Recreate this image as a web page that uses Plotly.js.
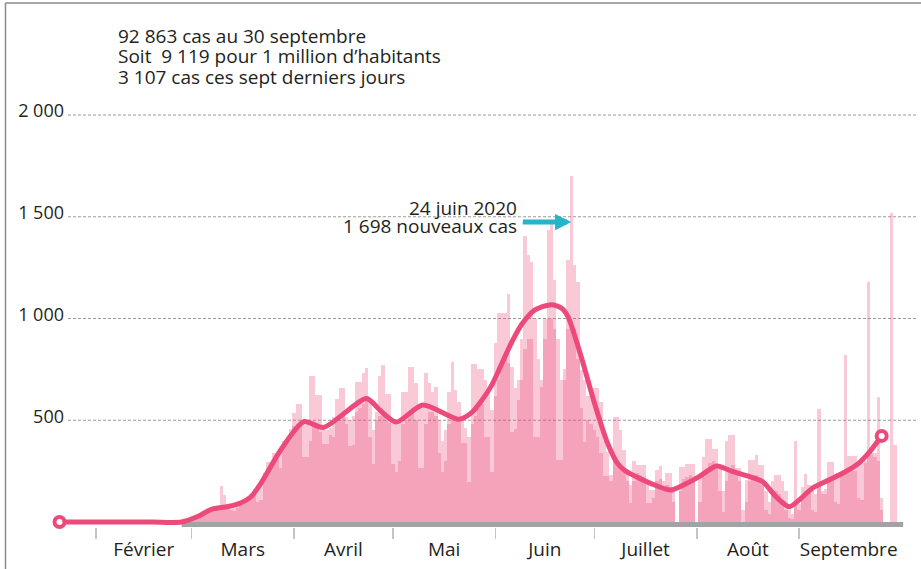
<!DOCTYPE html>
<html>
<head>
<meta charset="utf-8">
<script src="https://cdn.plot.ly/plotly-3.0.1.min.js"></script>
<style>html,body{margin:0;padding:0;background:#fff;}#chart{width:921px;height:569px;}</style>
</head>
<body>
<div id="chart"></div>
<script>
// ---- Data ----
const firstBarDay = '2020-02-26';
// Daily new cases as reported (light bars), Feb 26 -> Sep 30
const reported = [
  // Feb 26-29
  4, 6, 10, 14,
  // March
  20, 28, 35, 42, 50, 56, 60, 63, 66, 177, 133, 75, 72, 70, 80, 95, 110, 125, 140, 160, 173, 190, 240, 296, 296, 338, 338, 338, 400, 410, 455,
  // April
  534, 578, 578, 500, 480, 717, 717, 624, 624, 460, 450, 460, 514, 603, 660, 660, 514, 500, 520, 690, 690, 734, 755, 600, 452, 542, 717, 771, 628, 628,
  // May
  490, 480, 500, 640, 640, 760, 760, 681, 560, 575, 731, 681, 640, 662, 500, 400, 450, 640, 785, 650, 591, 500, 460, 420, 775, 775, 752, 750, 700, 640, 550,
  // June
  878, 1025, 1025, 1025, 1120, 763, 657, 700, 900, 1407, 1312, 1279, 1000, 800, 665, 1000, 1435, 1476, 1189, 900, 700, 700, 1287, 1698, 1263, 1181, 747, 698, 620, 620,
  // July
  657, 657, 591, 400, 346, 231, 518, 518, 450, 354, 255, 180, 301, 280, 280, 280, 200, 157, 157, 255, 275, 200, 239, 239, 157, 0, 269, 269, 285, 285, 285,
  // August
  0, 220, 321, 406, 406, 357, 357, 260, 150, 400, 427, 427, 265, 265, 60, 206, 305, 305, 329, 280, 280, 150, 100, 200, 231, 231, 200, 150, 60, 40, 400,
  // September
  90, 174, 236, 180, 157, 140, 554, 150, 160, 293, 293, 223, 223, 240, 819, 324, 324, 324, 288, 288, 300, 1181, 337, 337, 616, 120, 0, 0, 1517, 378
];
// Daily cases by test date (darker overlap), same days
const byTestDate = [
  3, 5, 8, 12,
  18, 25, 32, 40, 47, 53, 57, 60, 62, 63, 64, 65, 60, 55, 70, 85, 100, 115, 130, 150, 100, 110, 230, 240, 270, 300, 310, 267, 380, 400, 430,
  470, 480, 490, 321, 321, 400, 480, 480, 440, 382, 382, 427, 420, 490, 500, 520, 480, 373, 380, 540, 560, 580, 600, 420, 285, 500, 520, 540, 500, 485,
  285, 247, 300, 480, 500, 520, 540, 500, 264, 264, 480, 540, 540, 520, 338, 247, 300, 480, 500, 520, 500, 387, 387, 198, 480, 520, 560, 580, 419, 419, 247,
  620, 700, 780, 800, 780, 444, 455, 600, 700, 850, 900, 900, 419, 419, 700, 900, 1000, 1000, 950, 305, 305, 750, 950, 980, 950, 800, 560, 395, 500, 480,
  450, 420, 338, 226, 226, 200, 300, 300, 280, 260, 200, 92, 200, 240, 230, 220, 92, 92, 120, 200, 210, 150, 180, 170, 100, 0, 150, 210, 220, 230, 200,
  0, 100, 220, 260, 290, 300, 260, 150, 51, 200, 260, 280, 240, 200, 0, 100, 200, 220, 230, 210, 180, 60, 40, 130, 150, 140, 100, 60, 20, 15, 90,
  60, 120, 150, 150, 60, 50, 180, 140, 140, 200, 210, 100, 90, 230, 250, 250, 260, 250, 120, 110, 290, 330, 330, 320, 300, 60, 0, 0, 0, 0
];
// Smoothed trend (line)
const trendDates = ['2020-01-21','2020-02-05','2020-02-18','2020-02-27','2020-03-03','2020-03-07','2020-03-12','2020-03-16','2020-03-19','2020-03-22','2020-03-28',
  '2020-04-04','2020-04-10','2020-04-23','2020-04-27','2020-05-02','2020-05-10','2020-05-21','2020-05-25','2020-05-28','2020-05-31','2020-06-03','2020-06-06','2020-06-09',
  '2020-06-13','2020-06-18','2020-06-21','2020-06-23','2020-06-27','2020-07-01','2020-07-05','2020-07-08','2020-07-10','2020-07-14','2020-07-18','2020-07-24',
  '2020-07-29','2020-08-02','2020-08-07','2020-08-12','2020-08-17','2020-08-21','2020-08-25','2020-08-29','2020-09-01','2020-09-05',
  '2020-09-10','2020-09-15','2020-09-19','2020-09-22','2020-09-26'];
const trendValues = [0, 0, 0, 0, 28, 62, 76, 95, 124, 190, 354,
  493, 465, 607, 550, 491, 575, 505, 540, 600, 675, 780, 885, 972,
  1042, 1068, 1052, 1009, 812, 585, 387, 288, 256, 220, 190, 157,
  190, 226, 275, 247, 223, 198, 124, 75, 108, 166,
  206, 247, 288, 338, 423];
const monthStarts = ['2020-02-01','2020-03-01','2020-04-01','2020-05-01','2020-06-01','2020-07-01','2020-08-01','2020-09-01','2020-10-01'];
const monthNames = ['Février','Mars','Avril','Mai','Juin','Juillet','Août','Septembre'];
const yTickVals = [500, 1000, 1500, 2000];
const yTickText = ['500', '1 000', '1 500', '2 000'];
const infoLines = ['92 863 cas au 30 septembre', 'Soit\u00a0 9 119 pour 1 million d\u2019habitants', '3 107 cas ces sept derniers jours'];
const peakDate = '2020-06-24';
const peakLines = ['24 juin 2020', '1 698 nouveaux cas'];

// ---- Helpers ----
function addDays(s, n) {
  const d = new Date(s + 'T00:00:00Z');
  d.setUTCDate(d.getUTCDate() + n);
  return d.toISOString().slice(0, 10);
}
const barDates = reported.map((_, i) => addDays(firstBarDay, i));
const monthMid = monthNames.map((_, i) => {
  const a = Date.parse(monthStarts[i] + 'T00:00:00Z'), b = Date.parse(monthStarts[i + 1] + 'T00:00:00Z');
  return new Date((a + b) / 2).toISOString().replace('T', ' ').slice(0, 19);
});

const PINK = '#ec4a7b';
const BAR = 'rgba(236,76,124,0.30)';
const FONT = 'Open Sans, sans-serif';
const TXT = '#231f20';
const DAY = 86400000;

const traces = [
  { type: 'bar', x: barDates, y: reported, width: DAY, marker: { color: BAR, line: { width: 0 } }, hoverinfo: 'x+y' },
  { type: 'bar', x: barDates, y: byTestDate, width: DAY, marker: { color: BAR, line: { width: 0 } }, hoverinfo: 'x+y' },
  { type: 'scatter', mode: 'lines', x: trendDates, y: trendValues, line: { color: PINK, width: 5, shape: 'spline', smoothing: 0.7 }, hoverinfo: 'skip' },
  { type: 'scatter', mode: 'markers', cliponaxis: false,
    x: [trendDates[0], trendDates[trendDates.length - 1]],
    y: [trendValues[0], trendValues[trendValues.length - 1]],
    marker: { symbol: 'circle', size: 10, color: '#ffffff', line: { color: PINK, width: 4 } }, hoverinfo: 'skip' }
];

// pixel helpers for paper coordinates of text
const M = { l: 48, r: 3, t: 10, b: 42 };
const W = 921, H = 569;
const pw = W - M.l - M.r, ph = H - M.t - M.b;
const px2paperX = p => (p - M.l) / pw;
const px2paperY = p => (H - M.b - p) / ph;

const annotations = [];
const infoY = [35.5, 56.2, 76.8];
infoLines.forEach((t, i) => annotations.push({
  xref: 'paper', yref: 'paper', x: px2paperX(116), y: px2paperY(infoY[i]), xanchor: 'left', yanchor: 'middle',
  text: t, showarrow: false, font: { family: FONT, size: 19, color: TXT }
}));
const peakY = [207.7, 226.1];
peakLines.forEach((t, i) => annotations.push({
  xref: 'paper', yref: 'paper', x: px2paperX(519), y: px2paperY(peakY[i]), xanchor: 'right', yanchor: 'middle',
  text: t, showarrow: false, font: { family: FONT, size: 19, color: TXT }
}));
annotations.push({
  xref: 'x', yref: 'y', x: peakDate, y: 1474, text: '', showarrow: true, axref: 'pixel', ayref: 'pixel',
  ax: -50, ay: 0, arrowhead: 2, arrowsize: 0.65, arrowwidth: 5, arrowcolor: '#27b3c8', standoff: 0
});

const shapes = [];
// dashed horizontal gridlines at the y tick values
yTickVals.forEach(v => shapes.push({
  type: 'line', xref: 'paper', yref: 'y', x0: px2paperX(68), x1: 1, y0: v, y1: v,
  line: { color: '#9a9a9a', width: 1, dash: '3px,2px' }, layer: 'below'
}));
// grey baseline
shapes.push({ type: 'line', xref: 'x', yref: 'y', x0: trendDates[3], x1: '2020-10-02 12:00', y0: -12, y1: -12,
  line: { color: '#a3a3a6', width: 5 }, layer: 'between' });
// frame
shapes.push({ type: 'line', xref: 'paper', yref: 'paper', x0: px2paperX(5.5), x1: px2paperX(5.5), y0: px2paperY(3), y1: px2paperY(575),
  line: { color: '#8a8a8a', width: 1.5 } });
shapes.push({ type: 'line', xref: 'paper', yref: 'paper', x0: px2paperX(5.5), x1: px2paperX(925), y0: px2paperY(3), y1: px2paperY(3),
  line: { color: '#8a8a8a', width: 1.5 } });

const layout = {
  width: W, height: H, margin: M,
  paper_bgcolor: '#ffffff', plot_bgcolor: '#ffffff',
  barmode: 'overlay', bargap: 0, showlegend: false,
  font: { family: FONT, color: TXT },
  xaxis: {
    type: 'date', range: ['2020-01-17 12:30', '2020-10-07 00:00'],
    tickmode: 'array', tickvals: monthMid, ticktext: monthNames, ticks: '',
    tickfont: { family: FONT, size: 19, color: TXT }, ticklabelstandoff: 9,
    showgrid: false, zeroline: false, showline: false, fixedrange: true,
    minor: { tickmode: 'array', tickvals: monthStarts.slice(0, 8), ticks: 'outside', ticklen: 11, tickwidth: 1.5, tickcolor: '#c4c4c4', showgrid: false }
  },
  yaxis: {
    range: [-24.57, 2515.97], tickmode: 'array', tickvals: yTickVals, ticktext: yTickText,
    anchor: 'free', position: px2paperX(64),
    ticks: '', showgrid: false, zeroline: false, showline: false,
    tickfont: { family: FONT, size: 18, color: TXT },
    ticklabelshift: -4, ticklabelstandoff: 0, fixedrange: true
  },
  annotations: annotations,
  shapes: shapes
};

Plotly.newPlot('chart', traces, layout, { displayModeBar: false, staticPlot: true });
</script>
</body>
</html>
